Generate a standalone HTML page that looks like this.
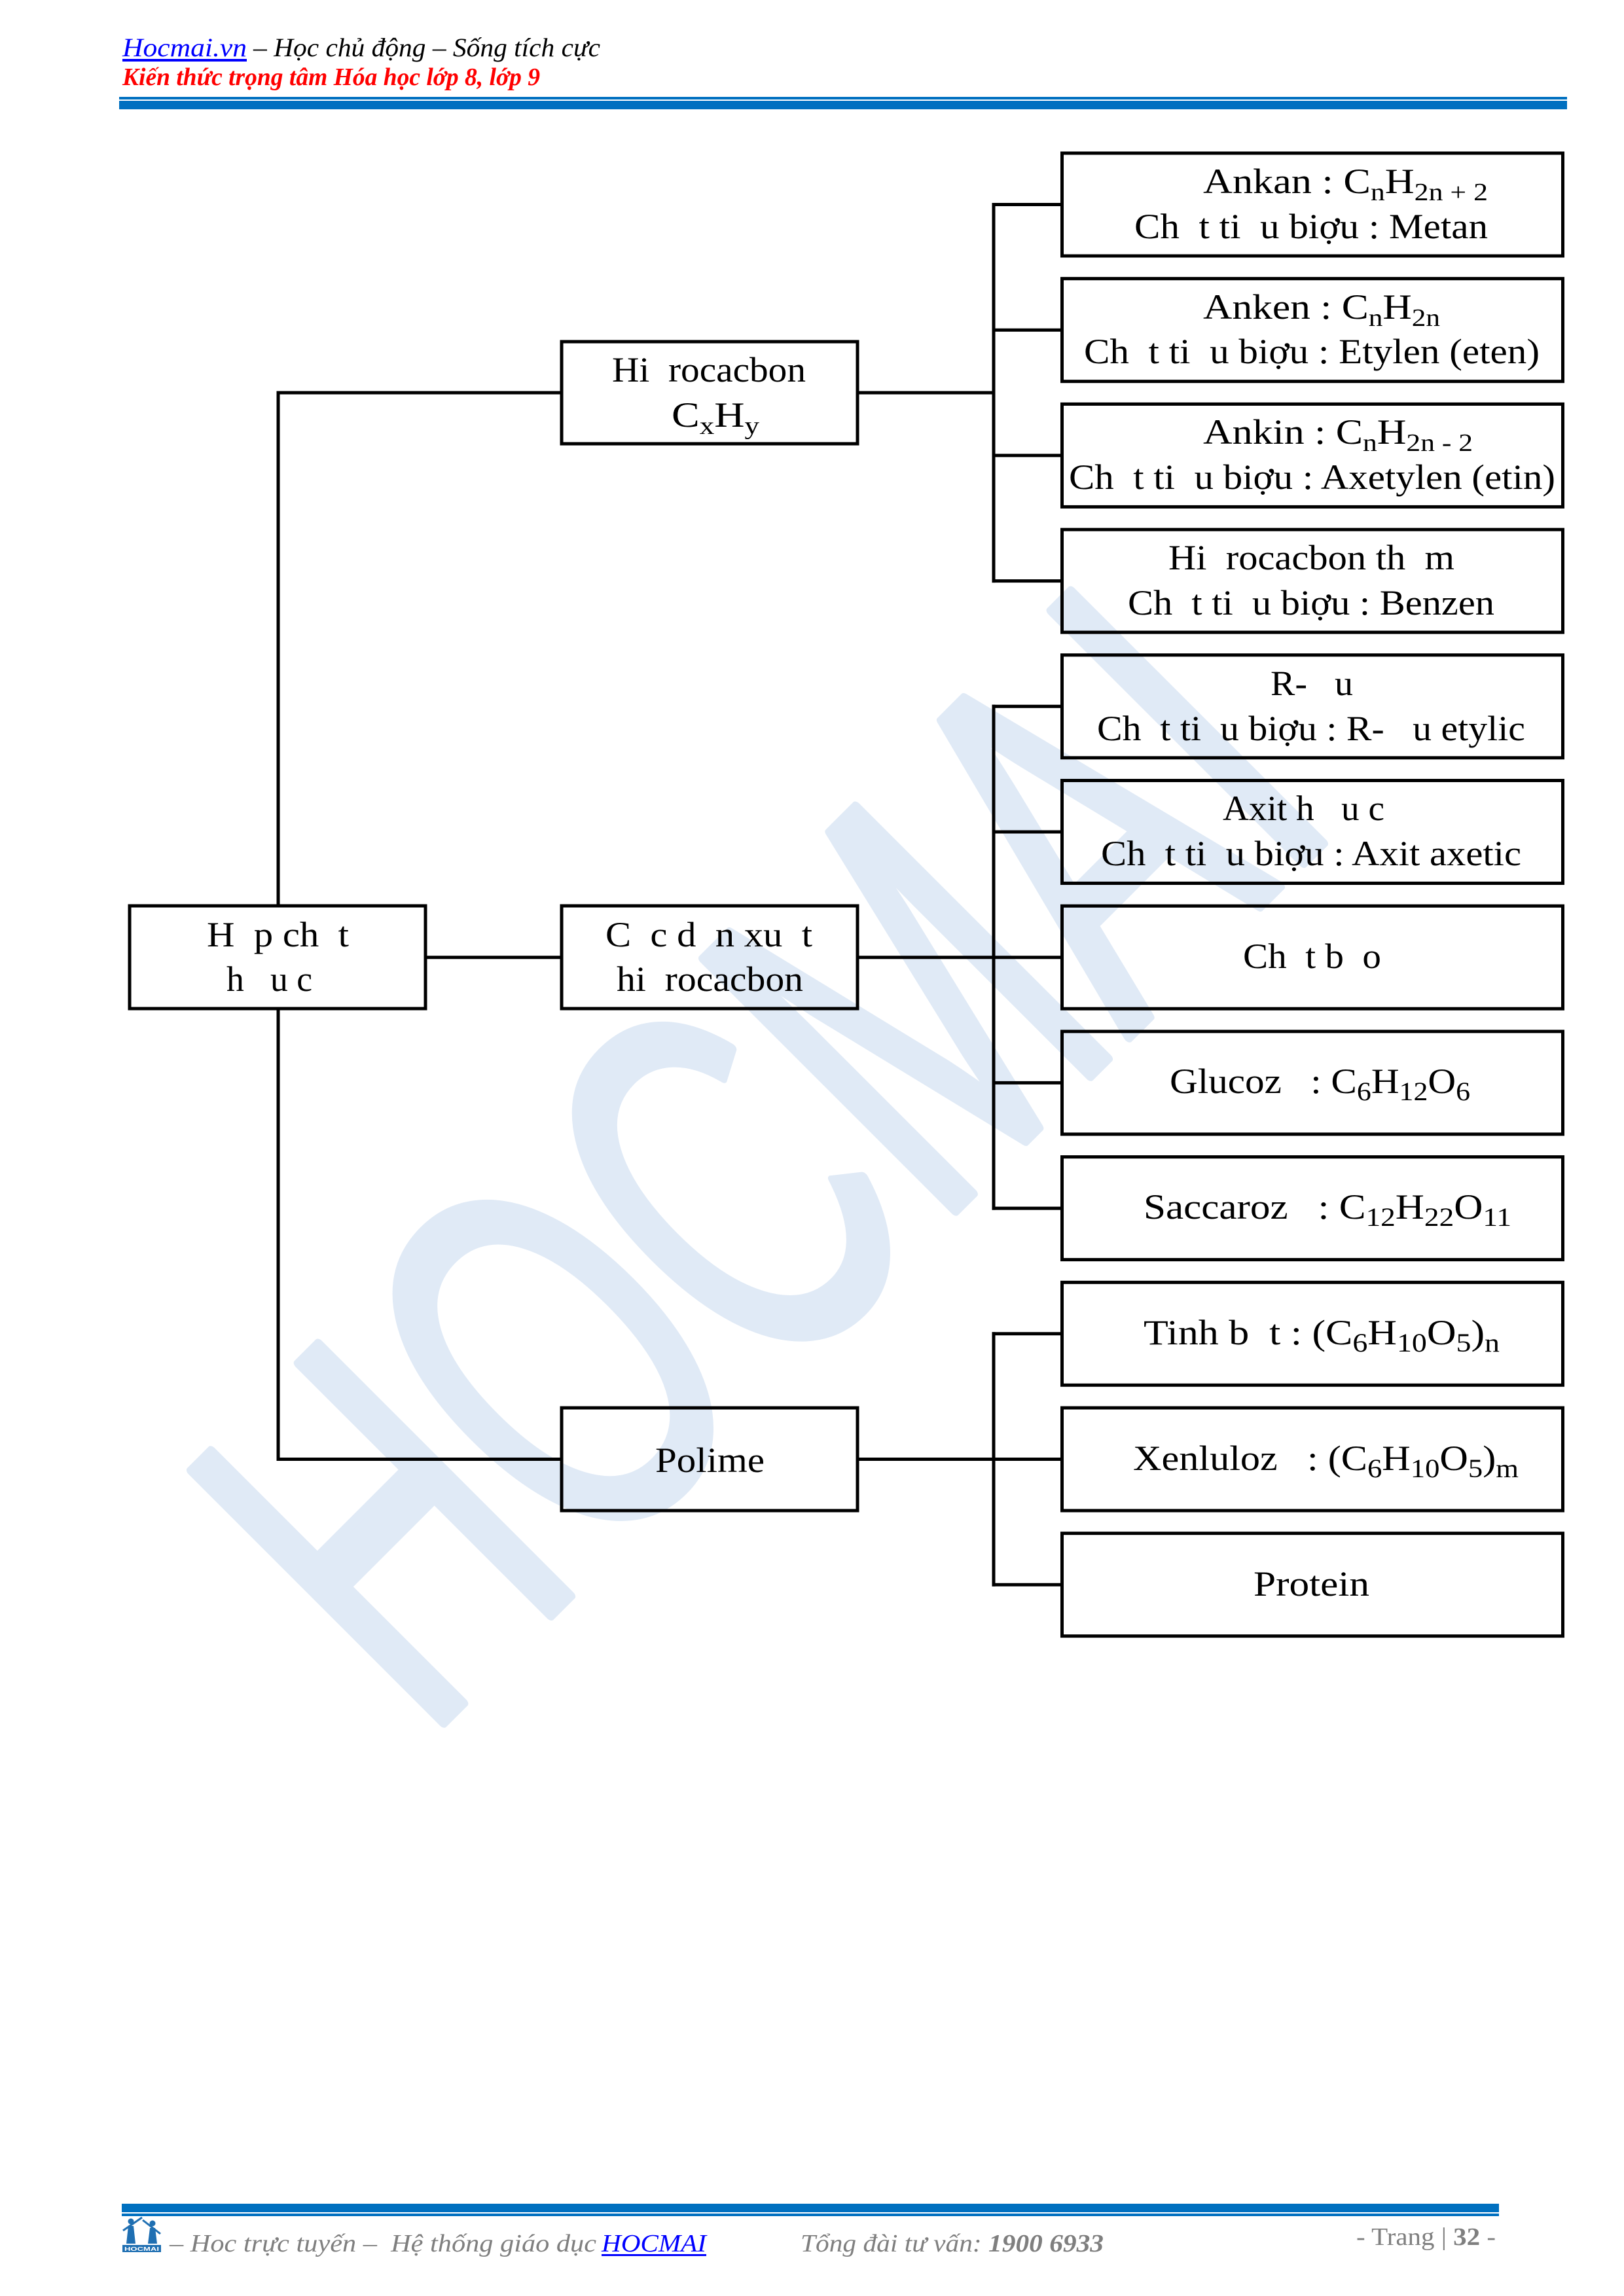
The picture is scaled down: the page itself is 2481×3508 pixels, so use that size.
<!DOCTYPE html>
<html>
<head>
<meta charset="utf-8">
<style>
html,body{margin:0;padding:0;background:#fff;}
body{width:2481px;height:3508px;overflow:hidden;}
svg{display:block;}
</style>
</head>
<body>
<svg xmlns="http://www.w3.org/2000/svg" width="2481" height="3508" viewBox="0 0 2481 3508"><rect x="0" y="0" width="2481" height="3508" fill="#ffffff"/><text x="0" y="0" font-family="Liberation Sans, Arial, sans-serif" font-size="790" fill="#e0eaf6" stroke="#e0eaf6" stroke-width="16" stroke-linejoin="round" textLength="1991" lengthAdjust="spacingAndGlyphs" transform="translate(647,2662) rotate(-45)">HOCMAI</text><g font-family="Liberation Serif, serif" font-style="italic"><text x="187" y="86" font-size="40" fill="#0000ff" textLength="190" lengthAdjust="spacingAndGlyphs">Hocmai.vn</text><rect x="187" y="90" width="190" height="4" fill="#0000ff"/><text x="387" y="86" font-size="40" fill="#000" textLength="530" lengthAdjust="spacingAndGlyphs">– Học chủ động – Sống tích cực</text><text x="187" y="130" font-size="38" font-weight="bold" fill="#ff0000" textLength="638" lengthAdjust="spacingAndGlyphs">Kiến thức trọng tâm Hóa học lớp 8, lớp 9</text></g><rect x="182" y="148" width="2212" height="4" fill="#0070c0"/><rect x="182" y="154" width="2212" height="13" fill="#0070c0"/><g stroke="#000" stroke-width="5" fill="none" stroke-linecap="square"><line x1="425" y1="600" x2="425" y2="1384"/><line x1="425" y1="1541" x2="425" y2="2229.5"/><line x1="425" y1="600" x2="858" y2="600"/><line x1="425" y1="2229.5" x2="858" y2="2229.5"/><line x1="650" y1="1462.7" x2="858" y2="1462.7"/><line x1="1518" y1="312.5" x2="1518" y2="887.6"/><line x1="1518" y1="1079.3" x2="1518" y2="1846.1"/><line x1="1518" y1="2037.8" x2="1518" y2="2421.2"/><line x1="1310" y1="600" x2="1518" y2="600"/><line x1="1310" y1="1462.7" x2="1622.5" y2="1462.7"/><line x1="1310" y1="2229.5" x2="1518" y2="2229.5"/><line x1="1518" y1="312.5" x2="1622.5" y2="312.5"/><line x1="1518" y1="504.2" x2="1622.5" y2="504.2"/><line x1="1518" y1="695.9" x2="1622.5" y2="695.9"/><line x1="1518" y1="887.6" x2="1622.5" y2="887.6"/><line x1="1518" y1="1079.3" x2="1622.5" y2="1079.3"/><line x1="1518" y1="1271" x2="1622.5" y2="1271"/><line x1="1518" y1="1654.4" x2="1622.5" y2="1654.4"/><line x1="1518" y1="1846.1" x2="1622.5" y2="1846.1"/><line x1="1518" y1="2037.8" x2="1622.5" y2="2037.8"/><line x1="1518" y1="2229.5" x2="1622.5" y2="2229.5"/><line x1="1518" y1="2421.2" x2="1622.5" y2="2421.2"/></g><g stroke="#000" stroke-width="5" fill="none"><rect x="198" y="1384" width="452" height="157"/><rect x="858" y="522" width="452" height="156"/><rect x="858" y="1384" width="452" height="157"/><rect x="858" y="2151" width="452" height="157"/><rect x="1622.5" y="234" width="765" height="157"/><rect x="1622.5" y="425.7" width="765" height="157"/><rect x="1622.5" y="617.4" width="765" height="157"/><rect x="1622.5" y="809.1" width="765" height="157"/><rect x="1622.5" y="1000.8" width="765" height="157"/><rect x="1622.5" y="1192.5" width="765" height="157"/><rect x="1622.5" y="1384.2" width="765" height="157"/><rect x="1622.5" y="1575.9" width="765" height="157"/><rect x="1622.5" y="1767.6" width="765" height="157"/><rect x="1622.5" y="1959.3" width="765" height="157"/><rect x="1622.5" y="2151" width="765" height="157"/><rect x="1622.5" y="2342.7" width="765" height="157"/></g><g font-family="Liberation Serif, serif" font-size="54" fill="#000"><text x="316" y="1446" textLength="217" lengthAdjust="spacingAndGlyphs">H&#160;&#160;p ch&#160;&#160;t</text><text x="346" y="1514" textLength="131" lengthAdjust="spacingAndGlyphs">h&#160;&#160;&#160;u c</text><text x="935" y="583" textLength="296" lengthAdjust="spacingAndGlyphs">Hi&#160;&#160;rocacbon</text><text x="1026" y="652" textLength="134" lengthAdjust="spacingAndGlyphs">C<tspan dy="11" font-size="38">x</tspan><tspan dy="-11">H</tspan><tspan dy="11" font-size="38">y</tspan></text><text x="925" y="1446" textLength="316" lengthAdjust="spacingAndGlyphs">C&#160;&#160;c d&#160;&#160;n xu&#160;&#160;t</text><text x="942" y="1514" textLength="285" lengthAdjust="spacingAndGlyphs">hi&#160;&#160;rocacbon</text><text x="1001" y="2249" textLength="167" lengthAdjust="spacingAndGlyphs">Polime</text><text x="1838" y="295" textLength="435" lengthAdjust="spacingAndGlyphs">Ankan : C<tspan dy="11" font-size="38">n</tspan><tspan dy="-11">H</tspan><tspan dy="11" font-size="38">2n + 2</tspan></text><text x="1733" y="364" textLength="540" lengthAdjust="spacingAndGlyphs">Ch&#160;&#160;t ti&#160;&#160;u biợu : Metan</text><text x="1838" y="487" textLength="362" lengthAdjust="spacingAndGlyphs">Anken : C<tspan dy="11" font-size="38">n</tspan><tspan dy="-11">H</tspan><tspan dy="11" font-size="38">2n</tspan></text><text x="1656" y="555" textLength="696" lengthAdjust="spacingAndGlyphs">Ch&#160;&#160;t ti&#160;&#160;u biợu : Etylen (eten)</text><text x="1838" y="678" textLength="412" lengthAdjust="spacingAndGlyphs">Ankin : C<tspan dy="11" font-size="38">n</tspan><tspan dy="-11">H</tspan><tspan dy="11" font-size="38">2n - 2</tspan></text><text x="1633" y="747" textLength="743" lengthAdjust="spacingAndGlyphs">Ch&#160;&#160;t ti&#160;&#160;u biợu : Axetylen (etin)</text><text x="1785" y="870" textLength="437" lengthAdjust="spacingAndGlyphs">Hi&#160;&#160;rocacbon th&#160;&#160;m</text><text x="1723" y="939" textLength="560" lengthAdjust="spacingAndGlyphs">Ch&#160;&#160;t ti&#160;&#160;u biợu : Benzen</text><text x="1941" y="1062" textLength="126" lengthAdjust="spacingAndGlyphs">R-&#160;&#160;&#160;u</text><text x="1676" y="1131" textLength="654" lengthAdjust="spacingAndGlyphs">Ch&#160;&#160;t ti&#160;&#160;u biợu : R-&#160;&#160;&#160;u etylic</text><text x="1868" y="1253" textLength="247" lengthAdjust="spacingAndGlyphs">Axit h&#160;&#160;&#160;u c</text><text x="1682" y="1322" textLength="642" lengthAdjust="spacingAndGlyphs">Ch&#160;&#160;t ti&#160;&#160;u biợu : Axit axetic</text><text x="1899" y="1479" textLength="211" lengthAdjust="spacingAndGlyphs">Ch&#160;&#160;t b&#160;&#160;o</text><text x="1787" y="1670" textLength="459" lengthAdjust="spacingAndGlyphs">Glucoz&#160;&#160;&#160;: C<tspan dy="11" font-size="40">6</tspan><tspan dy="-11">H</tspan><tspan dy="11" font-size="40">12</tspan><tspan dy="-11">O</tspan><tspan dy="11" font-size="40">6</tspan></text><text x="1747" y="1862" textLength="562" lengthAdjust="spacingAndGlyphs">Saccaroz&#160;&#160;&#160;: C<tspan dy="11" font-size="40">12</tspan><tspan dy="-11">H</tspan><tspan dy="11" font-size="40">22</tspan><tspan dy="-11">O</tspan><tspan dy="11" font-size="40">11</tspan></text><text x="1747" y="2054" textLength="544" lengthAdjust="spacingAndGlyphs">Tinh b&#160;&#160;t : (C<tspan dy="11" font-size="40">6</tspan><tspan dy="-11">H</tspan><tspan dy="11" font-size="40">10</tspan><tspan dy="-11">O</tspan><tspan dy="11" font-size="40">5</tspan><tspan dy="-11">)</tspan><tspan dy="11" font-size="40">n</tspan></text><text x="1731" y="2246" textLength="589" lengthAdjust="spacingAndGlyphs">Xenluloz&#160;&#160;&#160;: (C<tspan dy="11" font-size="40">6</tspan><tspan dy="-11">H</tspan><tspan dy="11" font-size="40">10</tspan><tspan dy="-11">O</tspan><tspan dy="11" font-size="40">5</tspan><tspan dy="-11">)</tspan><tspan dy="11" font-size="40">m</tspan></text><text x="1915" y="2438" textLength="177" lengthAdjust="spacingAndGlyphs">Protein</text></g><rect x="186" y="3367" width="2104" height="13" fill="#0070c0"/><rect x="186" y="3382" width="2104" height="4" fill="#0070c0"/><g><rect x="187" y="3387" width="59" height="54" fill="#ffffff"/><circle cx="200" cy="3394" r="4.5" fill="#1f6fb2"/><circle cx="233" cy="3397" r="4.5" fill="#1f6fb2"/><line x1="188" y1="3408" x2="217" y2="3388" stroke="#1f6fb2" stroke-width="3"/><line x1="218" y1="3392" x2="245" y2="3413" stroke="#1f6fb2" stroke-width="3"/><polygon points="196,3401 204,3401 207,3428 193,3428" fill="#1f6fb2"/><polygon points="229,3404 237,3404 240,3428 226,3428" fill="#1f6fb2"/><rect x="187" y="3430" width="59" height="11" fill="#1f6fb2"/><text x="190" y="3439" font-family="Liberation Sans, sans-serif" font-size="8" font-weight="bold" fill="#ffffff" textLength="53" lengthAdjust="spacingAndGlyphs">HOCMAI</text></g><g font-family="Liberation Serif, serif" font-style="italic" font-size="38" fill="#7f7f7f"><text x="259" y="3440" textLength="652" lengthAdjust="spacingAndGlyphs">– Hoc trực tuyến –&#160; Hệ thống giáo dục</text><text x="919" y="3440" fill="#0000ff" textLength="160" lengthAdjust="spacingAndGlyphs">HOCMAI</text><rect x="919" y="3444" width="160" height="3" fill="#0000ff"/><text x="1223" y="3440" textLength="463" lengthAdjust="spacingAndGlyphs">Tổng đài tư vấn: <tspan font-weight="bold">1900 6933</tspan></text><text x="2072" y="3430" font-style="normal" textLength="213" lengthAdjust="spacingAndGlyphs">- Trang | <tspan font-weight="bold">32</tspan> -</text></g></svg>
</body>
</html>
